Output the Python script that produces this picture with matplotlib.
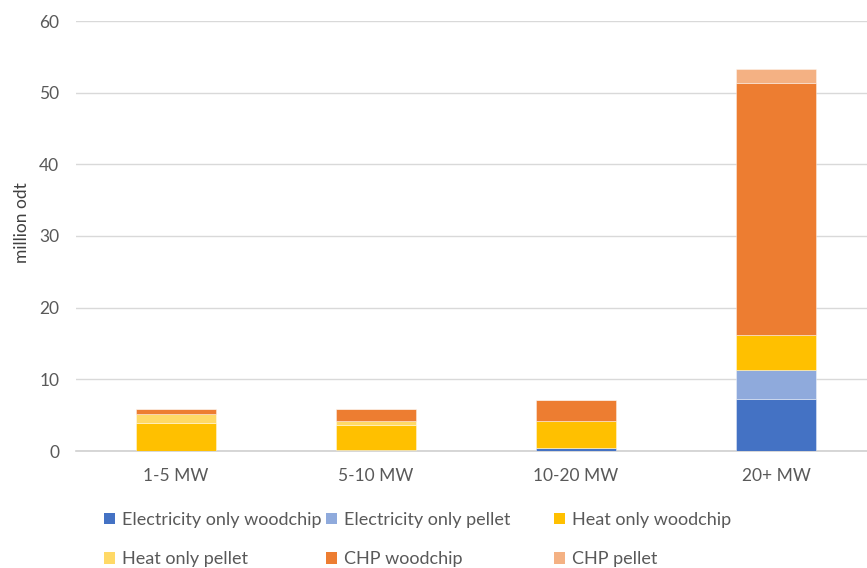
import matplotlib
matplotlib.use("Agg")
import matplotlib.pyplot as plt
from matplotlib.patches import Patch
import numpy as np

plt.rcParams['font.family'] = ['Lato', 'DejaVu Sans']

categories = ["1-5 MW", "5-10 MW", "10-20 MW", "20+ MW"]
series_names = ["Electricity only woodchip", "Electricity only pellet", "Heat only woodchip",
                "Heat only pellet", "CHP woodchip", "CHP pellet"]
elec_woodchip = [0.05, 0.2, 0.4, 7.3]
elec_pellet = [0.0, 0.0, 0.0, 4.05]
heat_woodchip = [3.85, 3.37, 3.8, 4.9]
heat_pellet = [1.2, 0.56, 0.0, 0.0]
chp_woodchip = [0.75, 1.67, 2.85, 35.15]
chp_pellet = [0.0, 0.0, 0.0, 1.85]
yticks = [0, 10, 20, 30, 40, 50, 60]

series = [elec_woodchip, elec_pellet, heat_woodchip, heat_pellet, chp_woodchip, chp_pellet]
colors = ["#4472C4", "#8FAADC", "#FFC000", "#FFD966", "#ED7D31", "#F4B183"]

fig = plt.figure(figsize=(8.67, 5.68), dpi=100)
W, H = 867, 568
ax = fig.add_axes([76 / W, (568 - 451) / H, 800 / W, 430 / H])

x = np.arange(len(categories))
bottom = np.zeros(len(categories))
for vals, c in zip(series, colors):
    v = np.array(vals)
    ax.bar(x, v, width=0.4, bottom=bottom, color=c, edgecolor=(1, 1, 1, 0.45), linewidth=0.6, zorder=3)
    bottom += v

ax.set_xlim(-0.5, 3.5)
ax.set_ylim(0, 60)
ax.set_yticks(yticks)
ax.set_xticks(x)
ax.set_xticklabels(categories)
ax.grid(axis='y', color='#d9d9d9', linewidth=1, zorder=0)
for s in ['top', 'right', 'left']:
    ax.spines[s].set_visible(False)
ax.spines['bottom'].set_color('#d0d0d0')
ax.spines['bottom'].set_linewidth(1.2)
ax.tick_params(axis='both', length=0, colors='#595959', labelsize=12.5)
ax.tick_params(axis='y', pad=12)
ax.tick_params(axis='x', pad=12)
ax.set_ylabel("million odt", fontsize=12.5, color='#404040')
ax.yaxis.set_label_coords(-0.058, 0.53)

handles = [Patch(facecolor=c, edgecolor='none') for c in colors]
col_x = [104, 326, 554]
for ci in range(3):
    hs = [handles[ci], handles[ci + 3]]
    ls = [series_names[ci], series_names[ci + 3]]
    leg = fig.legend(hs, ls, loc='upper left', bbox_to_anchor=(col_x[ci] / W, 1 - 512 / H),
                     frameon=False, fontsize=13, handlelength=0.6, handleheight=0.6,
                     handletextpad=0.4, labelspacing=1.3, borderpad=0, borderaxespad=0)
    for t in leg.get_texts():
        t.set_color('#595959')

fig.savefig("out.png", dpi=100)
